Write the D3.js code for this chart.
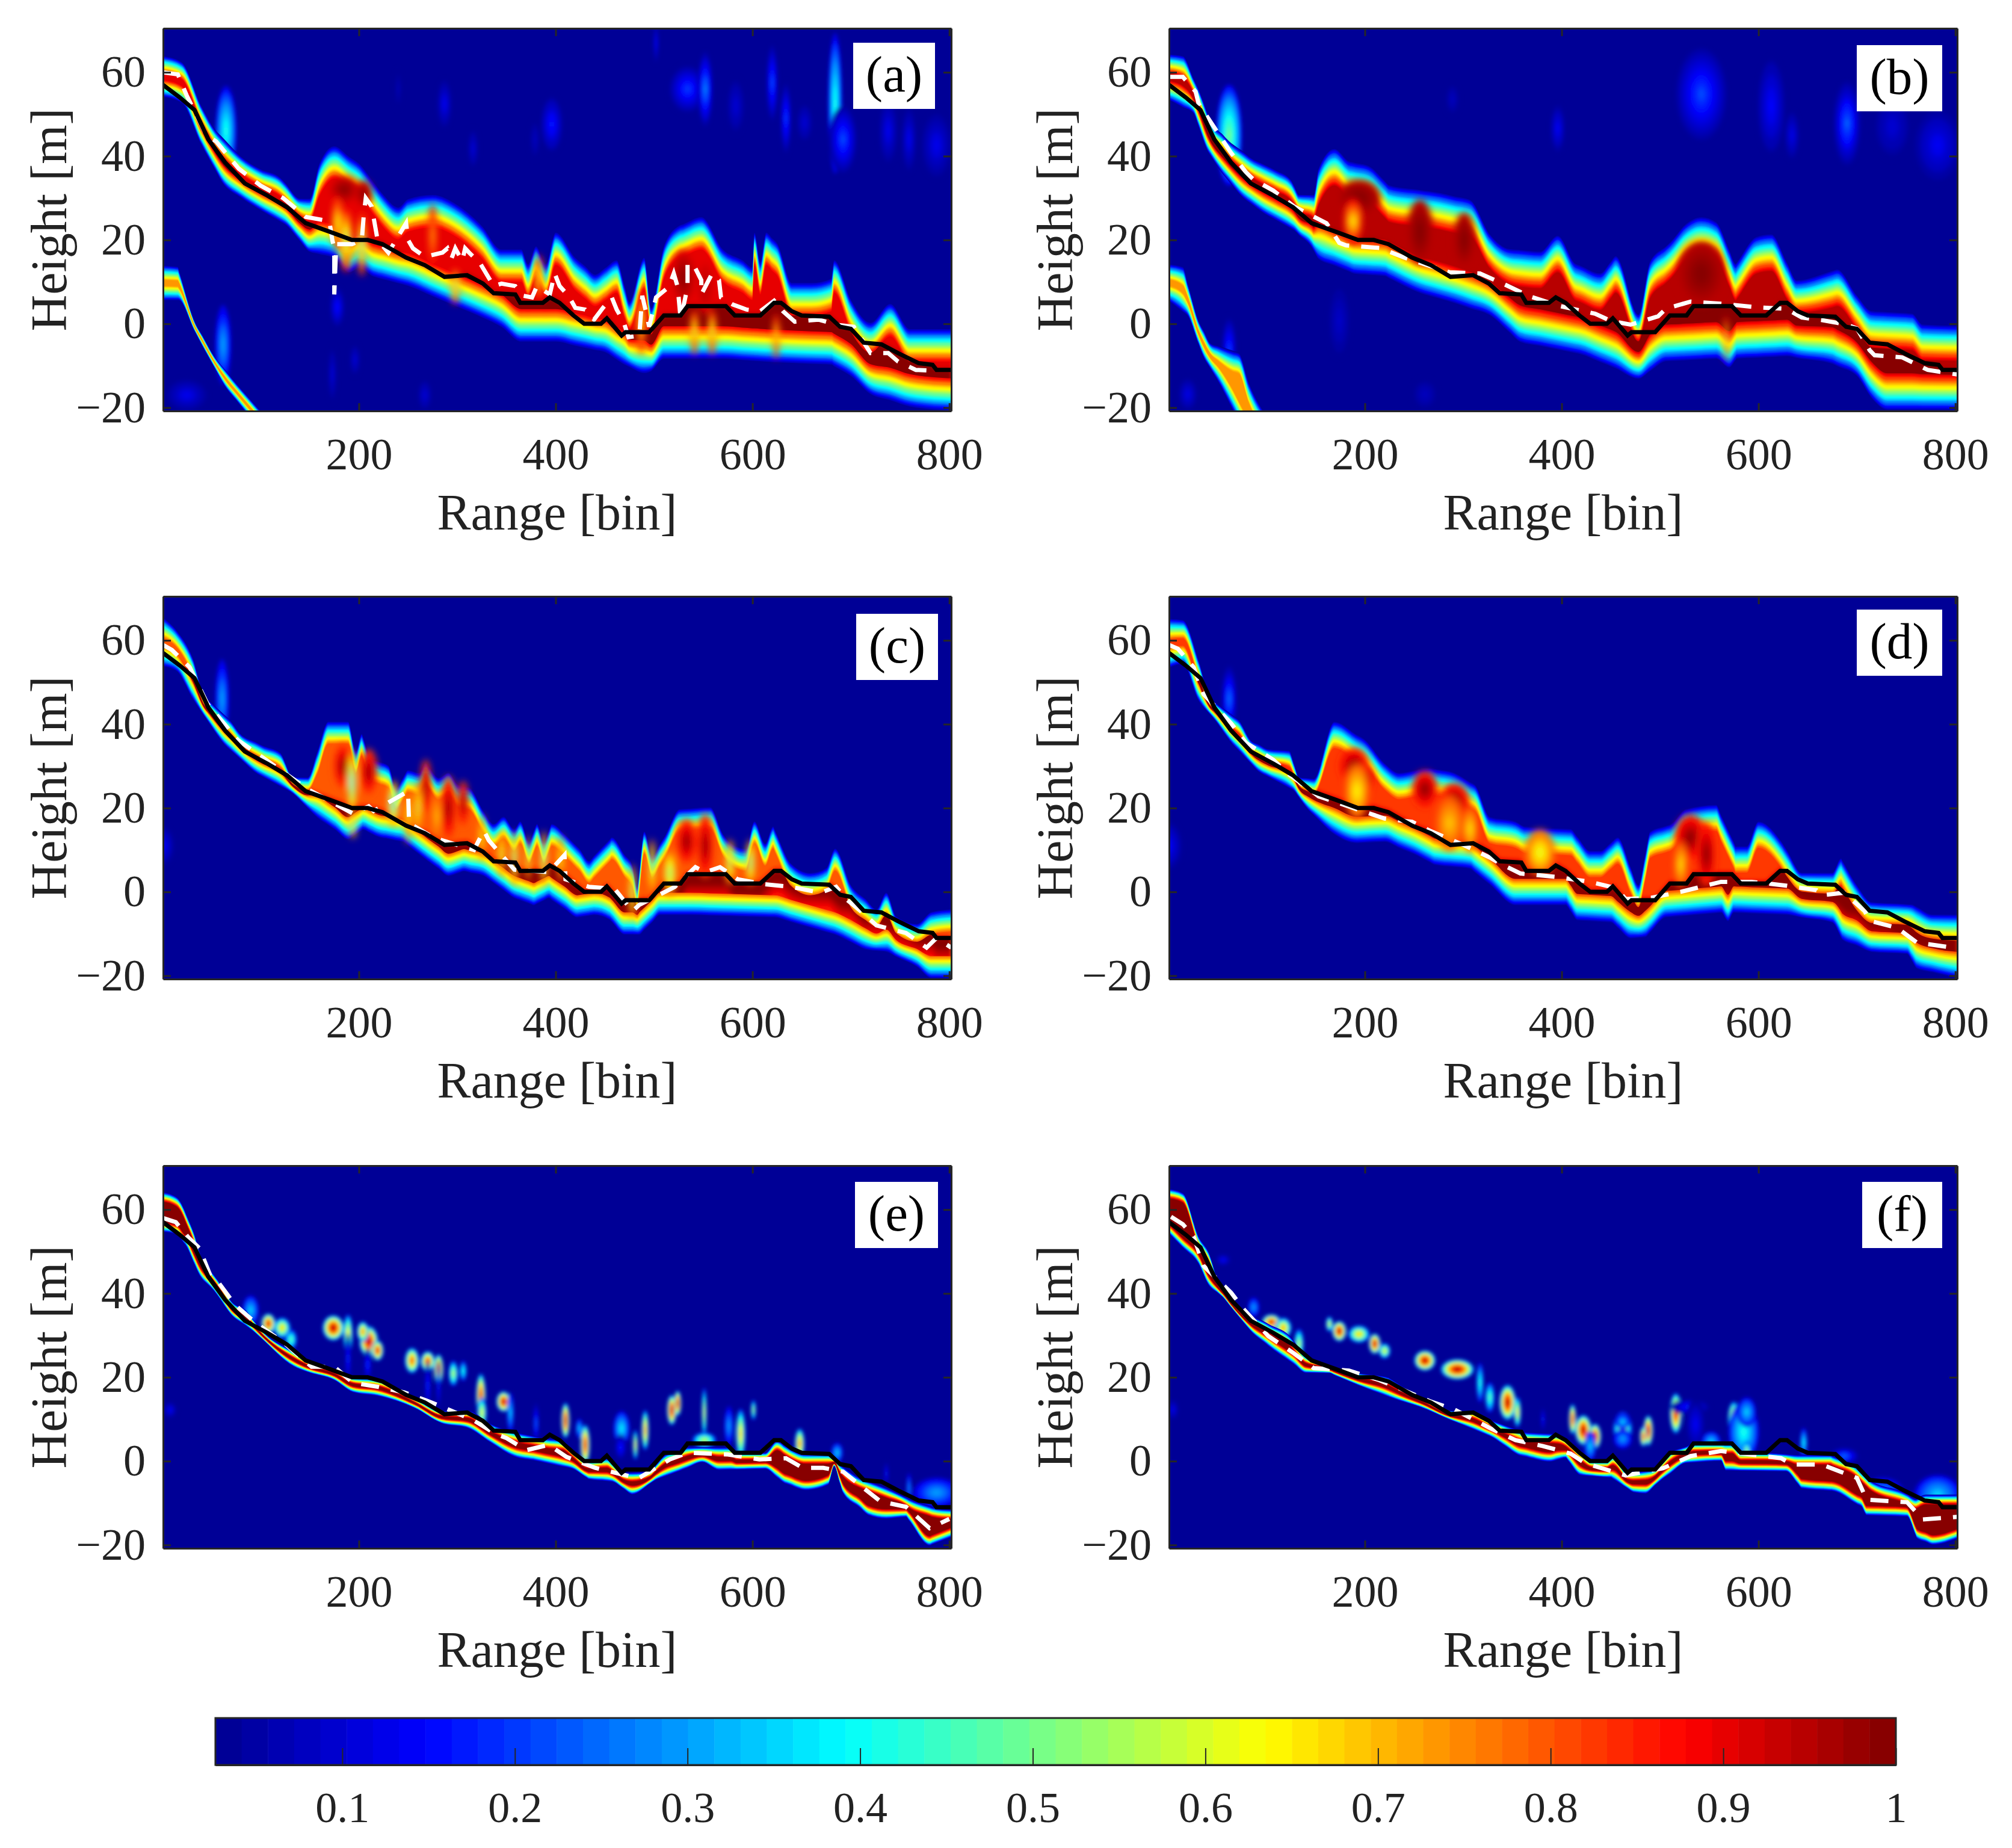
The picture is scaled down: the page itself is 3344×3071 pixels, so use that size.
<!DOCTYPE html>
<html>
<head>
<meta charset="utf-8">
<script src="https://cdn.jsdelivr.net/npm/d3@7"></script>
<style>
body { margin: 0; background: #fff; }
text { font-family: "Liberation Serif", serif; fill: #222; }
</style>
</head>
<body>
<svg id="fig" width="3344" height="3071"></svg>
<script>
// everything below: [bin, height in m]
var xTicks = [200, 400, 600, 800];
var yTicks = [-20, 0, 20, 40, 60];
var cbTicks = [0.1, 0.2, 0.3, 0.4, 0.5, 0.6, 0.7, 0.8, 0.9, 1];

var groundLine = [[1,57],[18,54],[33,51],[47,44],[64,38.5],[84,33.5],[107,30.6],[127,27.8],[146,24],[170,22],[193,20],[209,20],[224,19],[248,15.8],[267,14],[287,11.2],[310,11.6],[326,9.6],[337,7.3],[359,7],[364,5],[387,5],[394,6.3],[404,5],[418,2],[429,0],[446,0],[452,1.3],[467,-2.8],[471,-2],[495,-2],[510,2],[527,2],[534,4.2],[573,4.2],[582,2],[608,2],[622,5],[629,5],[640,3],[650,2],[678,1.7],[689,-0.7],[700,-1.2],[713,-4.5],[731,-4.9],[748,-7],[769,-9.4],[783,-9.8],[787,-11],[802,-11]];

// upper and lower edges of the bright band in each panel
var topA = [[1,64],[20,62.5],[40,52],[55,46],[80,40],[100,37],[120,35],[140,30],[150,30],[160,38.5],[175,42.6],[200,38.5],[225,31],[240,28],[250,30],[275,31],[300,28.6],[325,23.6],[345,18],[365,18],[372,14.5],[380,18.7],[390,14.5],[400,22],[420,16],[440,12],[462,15.4],[475,5.5],[490,16],[497,4],[510,18.7],[525,23.6],[548,25.7],[570,18],[590,15.4],[600,13.7],[602,22],[608,15],[614,22],[625,19.5],[640,10],[660,10],[680,11],[683,15.4],[700,6],[720,0.5],[740,5],[760,-1],[802,-1]];
var lowA = [[1,54],[20,52.6],[40,42.6],[60,34],[80,30],[100,27],[125,23.6],[150,17],[175,15.4],[190,12],[200,13],[215,11],[250,8.8],[275,6.3],[300,3.8],[325,1.3],[345,-1],[365,-4.5],[400,-4.5],[430,-6],[450,-7],[470,-10],[490,-12],[497,-11.5],[510,-8.6],[530,-8.6],[570,-8.6],[620,-9.4],[680,-10],[700,-12.7],[720,-17],[760,-20],[802,-21]];
var topB = [[1,64.4],[15,64],[31,56],[43,48.4],[60,44],[84,39.7],[110,36.7],[125,34.4],[133,30.9],[148,30.9],[153,37.3],[169,42],[184,39],[204,37.9],[225,33.3],[276,31.5],[307,29.8],[327,21.6],[347,18.1],[378,17.5],[396,21.3],[414,14.6],[439,12.3],[455,16.4],[478,2.4],[490,15.2],[511,19.9],[526,24],[542,25.7],[557,24.5],[577,14.6],[598,21],[613,21.6],[639,10.6],[680,13.2],[700,7],[715,3.3],[756,2.7],[767,0.1],[802,-0.2]];
var lowB = [[1,53.3],[26,50.1],[41,40.8],[56,35.6],[77,29.8],[97,26.3],[128,22.2],[146,18.1],[153,15.2],[189,11.7],[220,11.1],[256,7.1],[291,4.7],[327,1.8],[358,-4.6],[419,-7.5],[450,-10.4],[478,-13.3],[506,-9.2],[557,-8.6],[570,-10.7],[578,-8.6],[629,-8],[675,-9.8],[700,-12.7],[715,-18],[731,-20.8],[802,-20.8]];
var topC = [[1,65.6],[15,62.4],[31,56],[43,46.6],[69,41],[79,37.9],[102,35],[120,33.3],[133,27.4],[148,27.4],[169,40.8],[189,40.8],[197,33.8],[203,37.9],[212,32.1],[230,30.3],[238,25.1],[250,29.2],[261,28.6],[268,30.9],[281,27.4],[291,28.6],[301,25.7],[312,25.1],[327,19.3],[337,16.4],[347,18.1],[358,15.2],[364,17],[373,12.3],[381,16.4],[388,12.3],[396,16.4],[409,14],[424,10.5],[434,7.6],[457,13.2],[478,6.5],[483,1.3],[490,14.6],[498,8.8],[511,13.5],[526,19.9],[557,20.4],[570,14],[583,11.1],[593,10.5],[602,17],[613,11.7],[621,15.8],[639,7],[659,4.7],[675,5.9],[684,10.5],[700,1.8],[726,-4],[736,0],[746,-5.7],[767,-7.5],[782,-4.6],[802,-4]];
var lowC = [[1,53.6],[15,52.5],[31,46],[46,40.8],[66,34.4],[97,28],[133,23.4],[158,17.5],[176,14.6],[189,12.3],[204,14.6],[220,12.9],[245,11.7],[271,7],[291,3.6],[307,4.7],[327,3.6],[358,-1.7],[378,-3.4],[393,-1.7],[422,-6.3],[439,-5.7],[455,-6.9],[470,-10.4],[485,-10.4],[506,-5.7],[537,-5.7],[623,-6.3],[684,-10.4],[715,-13.9],[736,-14.5],[767,-18],[782,-20.8],[802,-20.8]];
var topD = [[1,65.3],[15,65],[31,55.4],[43,46],[72,41],[84,36.2],[102,34.1],[123,33.8],[133,27.4],[148,27.1],[169,40.8],[199,36.7],[220,30.9],[235,28.6],[266,29.8],[291,28.6],[312,25.7],[327,18.1],[353,17],[363,15.8],[409,15.2],[429,10],[439,10],[457,13.2],[478,1.8],[490,14.6],[511,16.4],[526,19.9],[557,21],[577,11.1],[588,11.1],[600,17],[623,12.3],[644,4.7],[675,4.7],[684,8.2],[700,1.8],[715,-2.3],[756,-2.8],[777,-5.2],[802,-5.2]];
var lowD = [[1,53.3],[15,54.2],[31,45.5],[46,41.4],[66,35],[92,28.6],[128,24],[143,19.3],[169,13.5],[192,11.4],[220,11.7],[250,8.8],[271,6.2],[307,5.3],[353,-3.4],[404,-3.4],[416,-7],[450,-7.5],[470,-11.3],[485,-11],[506,-6.3],[562,-5.2],[569,-7.2],[575,-5.2],[629,-5.7],[675,-7.5],[685,-11.6],[715,-14.5],[751,-15],[761,-18.5],[802,-20.8]];
var topE = [[1,64.2],[15,63],[22,60.4],[33,54],[38,50],[49,45.6],[59,42.4],[71,38],[85,36],[100,31.5],[134,26],[148,24],[175,22],[194,20],[219,19.5],[257,15],[284,12],[311,12],[333,9],[358,7],[389,5.5],[407,5],[431,0],[452,0.7],[469,-2.8],[496,-2.5],[510,1.3],[534,3.3],[578,3.3],[584,2],[613,2],[625,4.9],[636,3.3],[654,1.7],[677,1.7],[689,-0.9],[709,-4],[736,-6.4],[759,-9],[783,-11],[802,-11.5]];
var lowE = [[1,54.6],[15,54],[24,51.4],[38,44.3],[53,40.5],[71,34.7],[93,30.9],[134,22.5],[148,21.2],[175,19.3],[194,16.4],[219,15.5],[257,12.6],[284,9],[311,7.8],[333,4.5],[358,1],[380,0],[417,-1.9],[434,-4.4],[458,-5],[478,-8],[502,-4.5],[525,-2.5],[549,-0.3],[566,-2.2],[613,-1.9],[633,-5.4],[654,-7],[677,-5.7],[683,-1.2],[692,-7.7],[718,-13],[736,-13.8],[756,-13.4],[780,-20.2],[802,-18.2]];
var topF = [[1,65],[15,64],[31,53.6],[41,50],[51,43],[64,38.5],[80,35],[100,33],[125,29.5],[140,25],[170,22.5],[193,21],[224,20],[248,16.5],[287,12],[310,12],[326,10],[361,7],[396,6.5],[407,5],[431,0],[446,0],[452,1.3],[467,-2.8],[495,-2],[510,2],[534,4.2],[573,4.2],[582,2],[608,2],[640,1.5],[673,1.5],[700,-1.5],[713,-4.5],[748,-7.5],[760,-9],[770,-8],[802,-8]];
var lowF = [[1,54.2],[31,47],[41,42],[56,39],[84,31],[102,27.4],[128,23],[140,21],[164,21],[194,18],[225,15.2],[256,12.9],[291,9.4],[327,5.9],[342,3.6],[358,1.2],[388,-0.2],[404,0.7],[419,-3.4],[450,-4],[473,-7.5],[485,-7.8],[501,-4.6],[526,-0.5],[562,0],[567,-2.3],[628,-2.5],[644,-6.6],[675,-7.2],[705,-11],[710,-13],[751,-13.3],[761,-18.5],[777,-20],[802,-18.5]];

// the faint second copy of the band at the lower left of (a) and (b)
var ghostTopA = [[1,14],[16,13.7],[33,0.5],[53,-7.8],[76,-14.4],[100,-20.8]];
var ghostLowA = [[1,5.5],[17,5.5],[41,-5.3],[64,-15],[84,-20.8]];
var ghostTopB = [[1,14.3],[15,13.7],[31,0.7],[43,-4.6],[72,-6.9],[82,-13.9],[97,-20.8]];
var ghostLowB = [[1,5.3],[20,1.8],[36,-8],[51,-13.9],[66,-20.8]];

// the dashed white estimate of each panel
var whiteA = [[1,60],[16,59.5],[25,54.5],[45,45],[55,43.5],[78,37],[100,33],[123,30],[146,25.5],[170,24.5],[173,20],[175,18],[175,7],[177,19],[193,19],[203,20],[205,26],[207,30],[213,28],[216,24],[219,20],[230,17],[248,24],[250,20],[255,18],[267,16],[285,17],[290,18],[294,15.5],[298,18],[305,15],[308,18],[312,17],[323,14.5],[337,9],[345,9.6],[359,9],[367,6.7],[376,6.3],[381,9],[394,7],[399,12],[404,9],[413,6.7],[420,3.8],[430,3.4],[439,1],[448,3.8],[457,6.3],[462,3.4],[469,0.5],[474,-3.2],[485,-2.8],[488,6.7],[492,2.6],[495,-0.7],[502,6.3],[515,8.8],[520,12],[524,8.8],[527,1],[534,8.8],[534,14.5],[541,13.7],[548,10.4],[548,7],[559,12],[566,10.4],[568,6.3],[580,4.6],[594,3.4],[608,3],[622,5.5],[631,3],[643,0.5],[667,1],[688,-0.3],[703,-0.7],[720,-7],[738,-7],[748,-9],[766,-11],[783,-11.2]];
var whiteB = [[1,58.9],[15,58.9],[28,55.4],[31,52.5],[64,40.8],[79,36.2],[87,34.4],[107,31.8],[128,28],[161,24],[174,19.3],[181,18.7],[215,18.1],[240,15.8],[286,12.3],[317,12],[342,9.4],[368,6.5],[399,4.2],[434,2.4],[450,0.7],[470,-0.2],[498,1.8],[506,3.6],[531,5.3],[567,4.7],[600,3.9],[628,3.6],[644,1.5],[664,0.9],[690,-0.2],[700,-1.1],[713,-6.3],[718,-7.5],[746,-8],[772,-11],[802,-12.1]];
var whiteC = [[1,58.9],[10,57.7],[28,53.6],[46,44.9],[77,36.2],[123,28.6],[148,24.5],[194,18.7],[210,20.4],[215,19.3],[250,24],[251,16.4],[276,12.9],[317,10],[327,14.6],[332,12.3],[358,5.3],[393,4.7],[409,8.8],[410,3],[434,1.2],[460,0.7],[478,-4.6],[485,-3.1],[521,1.2],[542,5.9],[552,4.7],[567,5.9],[585,3],[613,1.8],[639,1.2],[669,-0.2],[685,1.2],[695,-1.7],[710,-4.6],[726,-8],[756,-9.8],[777,-13.3],[787,-11],[802,-13.3]];
var whiteD = [[1,58.9],[10,58],[26,53.6],[36,47.2],[64,40.2],[79,35.6],[107,31.5],[123,28],[153,22.8],[220,17.5],[248,16.7],[266,14.6],[301,11.1],[327,8.2],[337,6.8],[358,4.4],[393,3.6],[429,2.4],[455,0.9],[465,-1.7],[491,-1.4],[521,0],[562,2.4],[593,2.4],[628,1.5],[659,0.4],[664,-0.8],[687,-0.2],[708,-4.6],[713,-6.9],[741,-8.6],[761,-12.1],[797,-13.3]];
var whiteE = [[1,58],[14,57],[27,53.3],[38,50.8],[49,44.3],[58,42.4],[74,37.3],[95,33],[125,28],[152,22.5],[175,22.5],[194,18.7],[220,17.7],[246,16.4],[268,14.5],[279,13.5],[317,9.7],[339,6.5],[350,5.5],[370,2.6],[393,3.9],[411,1],[440,-1.6],[484,-4.1],[516,0.4],[534,2],[575,1.6],[607,0.4],[634,0.7],[651,-1.6],[672,-1.6],[692,-2.5],[709,-5.7],[730,-9.6],[756,-10.9],[780,-16],[800,-13.8]];
var whiteF = [[3,58.3],[15,56.5],[26,53.6],[36,46.6],[64,40.2],[77,36.2],[102,29.8],[128,25.7],[148,22.2],[184,21.6],[215,19.3],[245,16.4],[266,14.3],[291,12.3],[327,7.9],[353,5],[381,3.6],[409,1.8],[424,-0.5],[465,-3.4],[503,-1.7],[531,1.2],[562,2.4],[623,0.7],[634,-0.8],[664,-0.8],[700,-4],[710,-9.2],[751,-9.8],[767,-13.9],[802,-13.3]];

// isolated patches on the background: [bin, height, half width, half height, peak value]
var patchesA = [[65,46,9,9,0.42],[62,-5,7,8,0.3],[287,52.5,8,6,0.13],[396,47.6,12,7,0.17],[316,41.8,6,5,0.1],[379,44,6,5,0.08],[240,56,4,5,0.07],[178,4,8,5,0.16],[196,-8.6,6,4,0.1],[173,-12,5,7,0.1],[267,-17,8,4,0.1],[25,-17,22,4,0.13],[534,56,20,6,0.2],[552,56,8,9,0.27],[620,57.5,6,9,0.22],[583,52,10,7,0.1],[634,49,6,9,0.2],[653,48,9,5,0.1],[684,52.6,6,14,0.42],[692,44,14,8,0.22],[738,46,10,8,0.13],[759,44,8,8,0.13],[787,42.6,16,8,0.13],[502,67,3,5,0.14]];
var patchesB = [[62,45,11,10,0.5],[62,-6,8,8,0.2],[542,54.8,26,11,0.22],[613,51.9,15,12,0.15],[690,47.8,14,10,0.24],[782,42.6,25,9,0.14],[396,46.6,8,6,0.14],[289,53.6,8,4,0.08],[20,-16.8,10,4,0.12],[174,0.7,12,9,0.09],[261,-16.8,14,4,0.08],[634,45,8,6,0.12],[736,47,20,8,0.1]];
var patchesC = [[1,11,12,5,0.14],[61,46,6,8,0.3]];
var patchesD = [[1,11,14,6,0.14],[62,46,8,8,0.25]];
var patchesE = [[8,12.2,7,2,0.14],[90,36,7,3,0.35],[108,32.8,6,2,0.95],[122,31.8,7,2,0.7],[131,29,5,2,0.5],[174,31.8,9,2.5,1],[189,30.2,4,4,0.7],[210,28.6,8,3,1],[219,26.4,5,2,0.95],[204,30.9,5,2,0.8],[189,24.4,3,6,0.2],[209,23,4,4,0.2],[254,24,6,2.5,0.85],[270,23.8,6,2,0.9],[281,21.9,4,3,1],[296,20.9,4,2.5,0.6],[306,21.5,3,2,0.45],[270,18,3,6,0.2],[281,18,2,6,0.2],[324,15.5,4,4.5,0.95],[325,11.6,4,3,0.65],[347,14.2,6,2,1],[354,11.6,3,4,0.35],[380,9,3,5,0.25],[410,9.7,3.5,3.5,1],[430,3.9,4,4,0.95],[424,7.8,3,2,0.35],[467,7.8,7,3.5,0.38],[466,3.3,6,3,0.18],[481,3.9,2,3,0.7],[491,7.4,3,4,0.8],[518,12.2,4,3,1],[524,13.8,3,2.5,1],[551,11.6,2,5,0.65],[551,5,10,1.5,0.6],[576,8.4,4,4,0.3],[588,6.5,4,5,0.72],[601,12.2,2,2,0.6],[648,4.2,4,3,0.8],[686,2,5,2,0.35],[736,-3,2,3,0.2],[759,-6.4,2,3,0.3],[787,-7.5,20,3,0.3]];
var patchesF = [[5,12.3,6,2.5,0.12],[56,48,8,1.5,0.14],[87,36.7,5,2,0.3],[105,33.2,8,1.5,0.95],[117,31.8,7,2,0.75],[133,28,4,3,0.6],[164,32.7,3,1.5,0.65],[174,31,6,2,1],[194,30.3,9,1.7,0.7],[210,28,5,2,1],[220,26.3,5,1.5,0.65],[261,24,9,2,1],[294,21.9,14,2,1],[317,18.7,3,4,0.45],[327,15.2,4,3,0.5],[345,14,7,3.5,1],[355,11.7,3,3,0.7],[381,10,2,3,0.2],[411,10,3,3,0.95],[422,7.4,7,3,1],[434,5.9,5,2.5,1],[429,3.6,5,3,0.35],[462,7.6,8,3.5,0.65],[462,5.3,8,2,0.3],[488,7.3,4,3,1],[483,5.9,3,2,0.9],[462,9.4,6,1.5,0.35],[516,11.4,5,4,0.95],[531,12.9,20,2,0.2],[536,8.8,10,6,0.14],[575,10,5,3.5,0.85],[585,7,13,6,0.42],[588,11.7,8,3,0.35],[552,4.7,8,2,0.35],[588,2.4,3,2,0.6],[646,4.4,3,3,0.4],[687,1.2,15,2,0.25],[726,-7.5,18,3,0.3],[782,-8,20,4,0.35]];

// darker cores and paler hollows inside the band: same columns as the patches
var innerA = [[185,32,14,3,1],[205,31,8,3,1],[530,11,11,6,1],[552,9,8,6,0.95],[187,20,6,7,0.5],[203,19,4,7,0.45],[178,24,5,6,0.6],[275,21,4,7,0.72],[298,9,4,4,0.5],[383,11,4,5,0.6],[487,0.5,4,7,0.6],[541,-2,4,5,0.55],[559,-2,4,5,0.55],[624,-3,3,5,0.6]];
var innerB = [[194,30,20,4,1],[256,22,12,7,1],[301,20,10,6,1],[542,12,22,7,1],[188,24.5,9,5,0.62],[567,-3.5,2,5,0.5]];
var innerC = [[184,30,9,5,1],[210,28.6,8,5,1],[268,25,5,6,1],[291,20,7,7,1],[306,21,5,5,1],[193,26,4,7,0.35],[235,21,5,5,0.35],[260,20,3,6,0.55],[250,18,3,6,0.6],[279,18,3,5,0.65],[325,13,3,5,0.6],[345,9,3,5,0.55],[358,8,3,6,0.45],[372,8,2,5,0.5],[388,8,3,6,0.45],[405,8,3,5,0.6],[478,0,3,6,0.5],[498,6,3,6,0.5],[516,4.5,6,5,0.5],[577,7,4,5,0.5],[598,7,4,5,0.45],[194,16,3,3,0.45],[533,12,10,5,1],[552,11,8,7,1]];
var innerD = [[189,30,14,4,1],[200,27,9,3,1],[261,24.5,12,4,1],[291,21.6,14,4,1],[531,13,15,5,1],[547,9,9,7,1],[192,24,11,6,0.62],[286,16.4,13,6,0.68],[307,15,7,5,0.65],[378,9.4,14,5,0.6],[521,6.5,6,5,0.65]];

var panelNames = ['(a)', '(b)', '(c)', '(d)', '(e)', '(f)'];
var xDomain = [1, 802];
var yDomain = [-20.8, 70.5];
var cbDomain = [0.0265, 1];

// how each panel is laid out and shaded, not data
var panels = [
  { name: panelNames[0], left: 271, top: 47, box: [136, 110, 27, 24], ramp: 8, cap: 0.9, core: 10, upper: topA, lower: lowA, white: whiteA, patches: patchesA, inner: innerA, ghost: [ghostTopA, ghostLowA] },
  { name: panelNames[1], left: 1943, top: 47, box: [142, 110, 25, 28], ramp: 9, cap: 0.94, core: 11, upper: topB, lower: lowB, white: whiteB, patches: patchesB, inner: innerB, ghost: [ghostTopB, ghostLowB] },
  { name: panelNames[2], left: 271, top: 991, box: [136, 110, 22, 29], ramp: 5.5, cap: 0.8, core: 7, upper: topC, lower: lowC, white: whiteC, patches: patchesC, inner: innerC },
  { name: panelNames[3], left: 1943, top: 991, box: [142, 110, 25, 22], ramp: 6.5, cap: 0.82, core: 8, upper: topD, lower: lowD, white: whiteD, patches: patchesD, inner: innerD },
  { name: panelNames[4], left: 271, top: 1937, box: [138, 110, 22, 27], ramp: 2.4, cap: 1, core: 0, upper: topE, lower: lowE, white: whiteE, patches: patchesE, inner: [] },
  { name: panelNames[5], left: 1943, top: 1937, box: [133, 110, 25, 27], ramp: 2.4, cap: 1, core: 0, upper: topF, lower: lowF, white: whiteF, patches: patchesF, inner: [] }
];

var plotW = 1310, plotH = 636;
var axisColor = '#262626';

var svg = d3.select('#fig');

// soft edges for the blobs
var svgDefs = svg.append('defs');
[['soft3', 3], ['soft6', 6]].forEach(function(f) {
  svgDefs.append('filter').attr('id', f[0]).attr('x', '-5%').attr('y', '-5%').attr('width', '110%').attr('height', '110%')
    .append('feGaussianBlur').attr('stdDeviation', f[1]);
});

var jetRamp = d3.scaleLinear()
  .domain([0, 0.125, 0.375, 0.625, 0.875, 1])
  .range(['#00008f', '#0000ff', '#00ffff', '#ffff00', '#ff0000', '#800000'])
  .interpolate(d3.interpolateRgb);

// 64 flat levels like the matlab colormap
function jet(v) {
  var t = (v - cbDomain[0]) / (cbDomain[1] - cbDomain[0]);
  var level = Math.max(0, Math.min(63, Math.floor(t * 64)));
  return jetRamp((level + 0.5) / 64);
}

// merge the break points of both edges so an area can be drawn between them
function edgeAt(edge, bin) {
  return d3.scaleLinear().domain(edge.map(function(d) { return d[0]; })).range(edge.map(function(d) { return d[1]; }))(bin);
}
function joinEdges(upper, lower) {
  var bins = d3.sort(Array.from(new Set(upper.concat(lower).map(function(d) { return d[0]; }))));
  return bins.map(function(b) { return { bin: b, top: edgeAt(upper, b), low: edgeAt(lower, b) }; });
}

// a thin stretch of band still reaches full strength in its middle
function rampAt(d, ramp) {
  return Math.min(ramp, (d.top - d.low) * 0.42);
}

function drawBand(g, x, y, rows, ramp, cap) {
  var levels = d3.range(0, 30);
  g.selectAll(null).data(levels).enter().append('path')
    .attr('fill', function(k) { return jet(cbDomain[0] + (cap - cbDomain[0]) * Math.pow(k / 29, 0.85)); })
    .attr('d', function(k) {
      return d3.area()
        .x(function(d) { return x(d.bin); })
        .y0(function(d) { return y(d.low + rampAt(d, ramp) * k / 29); })
        .y1(function(d) { return y(d.top - rampAt(d, ramp) * k / 29); })
        .curve(d3.curveMonotoneX)(rows);
    });
}

// nested ellipses from the base value up (or down) to the value of the blob
function drawBlobs(g, x, y, blobs, base, spread, power) {
  var steps = d3.range(0, 12);
  blobs.forEach(function(b) {
    var faint = b[4] < 0.3 && base < 0.1;
    var s = faint ? 1 : spread, pw = faint ? 1 : power;
    g.selectAll(null).data(steps).enter().append('ellipse')
      .attr('cx', x(b[0]))
      .attr('cy', y(b[1]))
      .attr('rx', function(k) { return s * (x(b[0] + b[2]) - x(b[0])) * (1 - k / 12); })
      .attr('ry', function(k) { return s * (y(b[1] - b[3]) - y(b[1])) * (1 - k / 12); })
      .attr('fill', function(k) { return jet(base + (b[4] - base) * Math.pow((k + 1) / 12, pw)); });
  });
}

function drawPanel(p, i) {
  var g = svg.append('g').attr('transform', 'translate(' + p.left + ',' + p.top + ')');
  var x = d3.scaleLinear().domain(xDomain).range([0, plotW]);
  var y = d3.scaleLinear().domain(yDomain).range([plotH, 0]);
  var clipId = 'clip' + i, bandId = 'band' + i;

  var defs = g.append('defs');
  defs.append('clipPath').attr('id', clipId).append('rect').attr('width', plotW).attr('height', plotH);

  var plot = g.append('g').attr('clip-path', 'url(#' + clipId + ')');
  plot.append('rect').attr('width', plotW).attr('height', plotH).attr('fill', jet(cbDomain[0]));

  drawBlobs(plot.append('g').attr('filter', 'url(#soft3)'), x, y, p.patches, cbDomain[0], 1.2, 0.6);
  if (p.ghost) drawBand(plot, x, y, joinEdges(p.ghost[0], p.ghost[1]), 5, 0.74);

  var rows = joinEdges(p.upper, p.lower);
  drawBand(plot, x, y, rows, p.ramp, p.cap);

  // ground return is always the strongest part of the band
  if (p.core > 0) {
    defs.append('clipPath').attr('id', bandId).append('path').attr('d', d3.area()
      .x(function(d) { return x(d.bin); })
      .y0(function(d) { return y(d.low + rampAt(d, p.ramp)); })
      .y1(function(d) { return y(d.top - rampAt(d, p.ramp)); })
      .curve(d3.curveMonotoneX)(rows));
    var core = plot.append('g').attr('clip-path', 'url(#' + bandId + ')').append('g').attr('filter', 'url(#soft3)');
    core.selectAll(null).data(d3.range(0, 6)).enter().append('path')
      .attr('fill', function(k) { return jet(p.cap + (1 - p.cap) * (k + 1) / 6); })
      .attr('d', function(k) {
        return d3.area()
          .x(function(d) { return x(d[0]); })
          .y0(function(d) { return y(d[1] - p.core + k * 0.9); })
          .y1(function(d) { return y(d[1] + 0.8 - k * 0.2); })(groundLine);
      });
  }
  drawBlobs(plot.append('g').attr('filter', 'url(#soft6)'), x, y, p.inner, p.cap, 1.1, 1);

  var line = d3.line().x(function(d) { return x(d[0]); }).y(function(d) { return y(d[1]); });
  plot.append('path').attr('d', line(p.white)).attr('fill', 'none').attr('stroke', '#fff')
    .attr('stroke-width', 7).attr('stroke-dasharray', '30,20');
  plot.append('path').attr('d', line(groundLine)).attr('fill', 'none').attr('stroke', '#000')
    .attr('stroke-width', 7).attr('stroke-linejoin', 'miter');

  // panel letter
  var bx = plotW - p.box[2] - p.box[0], by = p.box[3];
  g.append('rect').attr('x', bx).attr('y', by).attr('width', p.box[0]).attr('height', p.box[1]).attr('fill', '#fff');
  g.append('text').attr('x', bx + p.box[0] / 2).attr('y', by + 81).attr('text-anchor', 'middle')
    .style('font-size', '85px').style('fill', '#000').text(p.name);

  // axes, inward ticks on all four sides
  var tick = 13;
  g.append('g').attr('class', 'axis').attr('transform', 'translate(0,' + plotH + ')')
    .call(d3.axisBottom(x).tickValues(xTicks).tickSizeInner(-tick).tickSizeOuter(0).tickPadding(44));
  g.append('g').attr('class', 'axis')
    .call(d3.axisLeft(y).tickValues(yTicks).tickSizeInner(-tick).tickSizeOuter(0).tickPadding(29));
  g.append('g').attr('class', 'axis')
    .call(d3.axisTop(x).tickValues(xTicks).tickSizeInner(-tick).tickSizeOuter(0).tickFormat(''));
  g.append('g').attr('class', 'axis').attr('transform', 'translate(' + plotW + ',0)')
    .call(d3.axisRight(y).tickValues(yTicks).tickSizeInner(-tick).tickSizeOuter(0).tickFormat(''));

  g.selectAll('.axis path, .axis line').attr('stroke', axisColor).attr('stroke-width', 3);
  g.selectAll('.axis text').style('font-size', '74px').style('font-family', '"Liberation Serif", serif').attr('fill', '#222');

  g.append('text').attr('x', plotW / 2).attr('y', plotH + 197).attr('text-anchor', 'middle')
    .style('font-size', '84px').text('Range [bin]');
  g.append('text').attr('transform', 'translate(-161,' + (plotH / 2) + ') rotate(-90)').attr('text-anchor', 'middle')
    .style('font-size', '84px').text('Height [m]');
}

panels.forEach(drawPanel);

// colour bar
var cbLeft = 358, cbRight = 3151, cbTop = 2855, cbBottom = 2933;
var cbX = d3.scaleLinear().domain(cbDomain).range([cbLeft, cbRight]);
var cbLevels = d3.range(64).map(function(k) { return cbDomain[0] + (cbDomain[1] - cbDomain[0]) * (k + 0.5) / 64; });
var cbStep = (cbDomain[1] - cbDomain[0]) / 64;

svg.append('g').selectAll('rect').data(cbLevels).enter().append('rect')
  .attr('x', function(d) { return cbX(d - cbStep / 2); })
  .attr('y', cbTop)
  .attr('width', cbX(cbDomain[0] + cbStep) - cbX(cbDomain[0]) + 0.5)
  .attr('height', cbBottom - cbTop)
  .attr('fill', jet);

var cbAxis = svg.append('g').attr('transform', 'translate(0,' + cbBottom + ')')
  .call(d3.axisBottom(cbX).tickValues(cbTicks).tickFormat(d3.format('~g')).tickSizeInner(-28).tickSizeOuter(0).tickPadding(44));
cbAxis.selectAll('line').attr('stroke', axisColor).attr('stroke-width', 2);
cbAxis.select('path').attr('stroke', axisColor).attr('stroke-width', 3);
cbAxis.selectAll('text').style('font-size', '72px').style('font-family', '"Liberation Serif", serif').attr('fill', '#222');

svg.append('rect').attr('x', cbLeft).attr('y', cbTop).attr('width', cbRight - cbLeft).attr('height', cbBottom - cbTop)
  .attr('fill', 'none').attr('stroke', axisColor).attr('stroke-width', 3);
</script>
</body>
</html>
